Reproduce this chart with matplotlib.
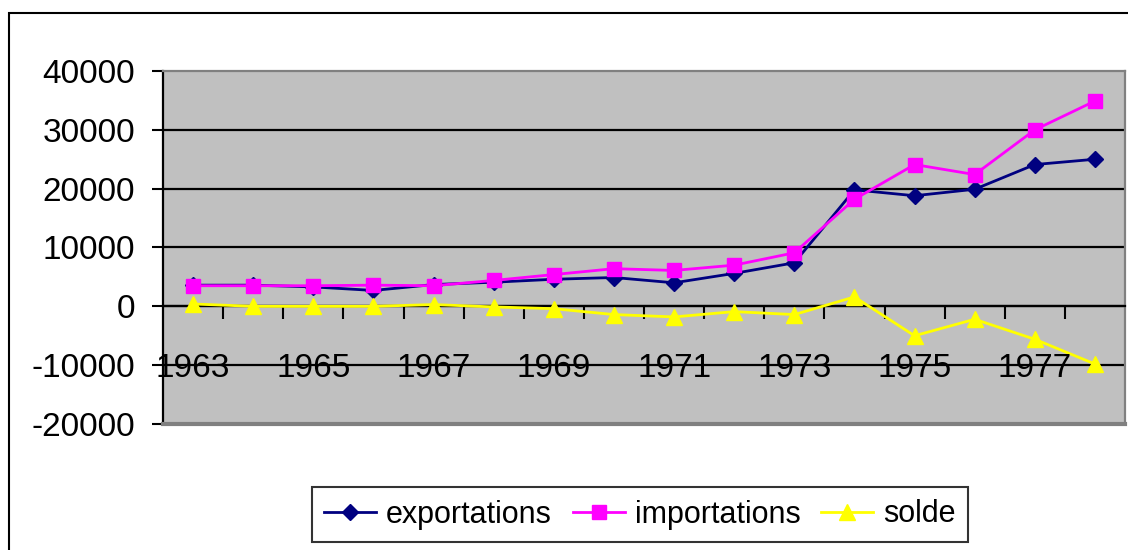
import matplotlib
matplotlib.use("Agg")
import matplotlib.pyplot as plt
from matplotlib.patches import Rectangle

plt.rcParams['font.family'] = ['Liberation Sans', 'DejaVu Sans']

annees = list(range(1963, 1979))
exportations = [3600, 3600, 3300, 2700, 3700, 4100, 4600, 4900, 4000, 5600, 7400, 19800, 18800, 19900, 24100, 25000]
importations = [3500, 3500, 3500, 3600, 3500, 4400, 5400, 6400, 6100, 7000, 9100, 18200, 24100, 22400, 30000, 34900]
solde = [400, 0, 0, 0, 300, -100, -400, -1400, -1800, -900, -1400, 1600, -5000, -2200, -5600, -9800]
etiquettes = [str(a) for a in annees[::2]]
yticks = [-20000, -10000, 0, 10000, 20000, 30000, 40000]

fig = plt.figure(figsize=(11.28, 5.5), dpi=100)
ax = fig.add_axes([163 / 1128, 1 - 424 / 550, (1125 - 163) / 1128, (424 - 71) / 550])
ax.set_facecolor('#c0c0c0')

x = list(range(len(annees)))
ax.plot(x, exportations, color='#000080', lw=2, marker='D', ms=8, label='exportations', zorder=3)
ax.plot(x, importations, color='#ff00ff', lw=2, marker='s', ms=10, label='importations', zorder=3)
ax.plot(x, solde, color='#ffff00', lw=2, marker='^', ms=11, label='solde', zorder=3)

ax.set_xlim(-0.5, len(annees) - 0.5)
ax.set_ylim(-20000, 40000)
ax.set_yticks(yticks)
ax.set_yticklabels([str(v) for v in yticks], fontsize=24)
for v in yticks[1:-1]:
    ax.axhline(v, color='black', lw=1.6, zorder=1)

# axe des catégories à zéro
ax.spines['bottom'].set_position(('data', 0))
ax.spines['bottom'].set_color('black')
ax.spines['bottom'].set_linewidth(1.6)
ax.set_xticks([i - 0.5 for i in range(1, len(annees))])
ax.set_xticklabels([])
ax.tick_params(axis='x', direction='out', length=9, width=1.5, color='black')
ax.tick_params(axis='y', direction='out', length=8, width=1.5, pad=12)
for i, lab in zip(x[::2], etiquettes):
    ax.text(i, -12000, lab, ha='center', va='baseline', fontsize=24, zorder=4)

ax.spines['left'].set_color('black')
ax.spines['left'].set_linewidth(1.6)
for s in ['top', 'right']:
    ax.spines[s].set_color('#808080')
    ax.spines[s].set_linewidth(1.6)
ax.plot([0, 1], [0, 0], transform=ax.transAxes, color='#808080', lw=3, clip_on=False, zorder=5)

leg = fig.legend(loc='center', bbox_to_anchor=(640 / 1128, 1 - 514.5 / 550), ncol=3,
                 fontsize=22, frameon=True, fancybox=False, edgecolor='black',
                 handlelength=1.7, handletextpad=0.33, columnspacing=0.68, borderpad=0.4)
leg.get_frame().set_linewidth(1.5)

fig.patches.append(Rectangle((9 / 1128, -0.1), 1.2, 1.1 - 13 / 550, transform=fig.transFigure,
                             fill=False, edgecolor='black', lw=1.5))

fig.savefig('out.png', dpi=100)
